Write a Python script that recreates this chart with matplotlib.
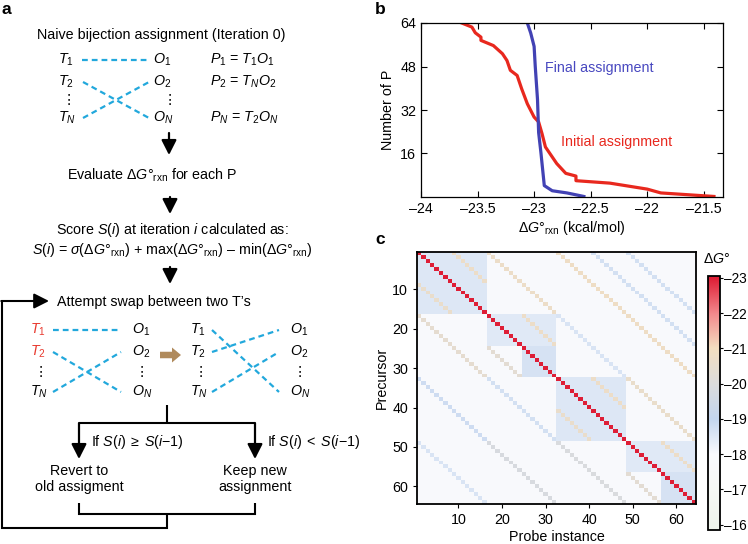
import matplotlib
matplotlib.use('Agg')
import matplotlib.pyplot as plt
import numpy as np
from matplotlib.colors import LinearSegmentedColormap, Normalize
from matplotlib.patches import FancyArrow

plt.rcParams['font.family'] = ['Liberation Sans', 'DejaVu Sans']
plt.rcParams['mathtext.fontset'] = 'custom'
plt.rcParams['mathtext.rm'] = 'Liberation Sans'
plt.rcParams['mathtext.it'] = 'Liberation Sans:italic'
plt.rcParams['mathtext.bf'] = 'Liberation Sans:bold'

# ---- panel b data (sorted dG of the 64 pairs) ----
red_dg = [-23.64, -23.55, -23.52, -23.47, -23.47, -23.36, -23.28, -23.24, -23.21, -23.15,
          -23.11, -23.06, -23.00, -22.96, -22.93, -22.90, -22.80, -22.72, -22.63, -22.63,
          -22.33, -22.00, -21.88, -21.41]
red_n = [64, 62.5, 60.4, 58.8, 57.6, 55.7, 52.7, 50.2, 46.6, 44.7,
         39.8, 34.3, 29.4, 27.6, 23.3, 18.4, 12.3, 8.7, 7.7, 6.0,
         5.1, 2.9, 1.5, 0.2]
blue_dg = [-23.06, -23.03, -23.00, -22.99, -22.97, -22.96, -22.94, -22.91, -22.84, -22.71, -22.56]
blue_n = [64, 60.3, 55.4, 48.1, 35.9, 23.7, 16.4, 4.2, 2.3, 1.5, 0.2]
b_xticks = [-24, -23.5, -23, -22.5, -22, -21.5]
b_yticks = [16, 32, 48, 64]

# ---- panel c data (64 x 64 matrix described by its structure) ----
n_cells = 64
background = -17.9
diag_value = -23.0
# (row_start, row_end, col_start, col_end, value), 1-based inclusive
block_rects = [
    (1, 16, 1, 16, -18.5),
    (17, 24, 17, 32, -18.45),
    (25, 32, 25, 32, -18.65),
    (33, 48, 33, 48, -18.5),
    (49, 56, 49, 64, -18.45),
    (57, 64, 57, 64, -18.65),
]
# (offset col-row, row_start, row_end, value)
stripes = [
    (8, 1, 8, -20.7), (-8, 9, 16, -20.6),
    (8, 17, 24, -20.7), (-8, 25, 32, -20.3),
    (8, 33, 40, -20.7), (-8, 41, 48, -20.6),
    (8, 49, 56, -20.7), (-8, 57, 64, -20.3),
    (16, 1, 16, -20.7), (16, 17, 32, -18.6), (16, 33, 48, -20.6),
    (32, 1, 32, -20.8), (40, 1, 24, -18.7), (48, 1, 16, -18.7),
    (-16, 17, 32, -20.4), (-16, 33, 48, -18.7), (-16, 49, 64, -19.9),
    (-32, 33, 48, -18.8), (-32, 49, 64, -19.8), (-48, 49, 64, -18.6),
]
c_ticks = [10, 20, 30, 40, 50, 60]
cbar_levels = [-23, -22, -21, -20, -19, -18, -17, -16]
cbar_colors = ['#DE1E36', '#F2898C', '#F3DEC0', '#DCDCDC', '#C3D5EE', '#F9FAFE', '#F6F8F5', '#EFF4EC']
c_vmin, c_vmax = -23.05, -15.85

M = np.full((n_cells, n_cells), background)
for r0, r1, c0, c1, v in block_rects:
    M[r0 - 1:r1, c0 - 1:c1] = v
for off, r0, r1, v in stripes:
    for r in range(r0, r1 + 1):
        c = r + off
        if 1 <= c <= n_cells:
            M[r - 1, c - 1] = v
np.fill_diagonal(M, diag_value)

CYAN = '#22A8DC'
TRED = '#E8392E'
FS = 10.3

fig = plt.figure(figsize=(7.48, 5.44), dpi=100)

# ---- panel a: flow diagram drawn in pixel coordinates ----
ax0 = fig.add_axes([0, 0, 1, 1])
ax0.set_xlim(0, 748)
ax0.set_ylim(544, 0)
ax0.axis('off')


def txt(x, y, s, ha='left', color='k', **kw):
    ax0.text(x, y, s, ha=ha, va='center', fontsize=FS, color=color, **kw)


def dash(x0, y0, x1, y1):
    ax0.plot([x0, x1], [y0, y1], color=CYAN, lw=1.6, ls=(0, (2.6, 1.8)))


def down_arrow(x, y0, y1):
    ax0.annotate('', xy=(x, y1), xytext=(x, y0),
                 arrowprops=dict(arrowstyle='-|>,head_width=0.38,head_length=0.75',
                                 lw=1.6, color='k', shrinkA=0, shrinkB=0,
                                 mutation_scale=12))


def line(xs, ys):
    ax0.plot(xs, ys, color='k', lw=1.5, solid_capstyle='butt', solid_joinstyle='miter')


ax0.text(1, 10, 'a', fontsize=12.5, fontweight='bold', va='center')
ax0.text(375, 10, 'b', fontsize=12.5, fontweight='bold', va='center')
ax0.text(375, 240, 'c', fontsize=12.5, fontweight='bold', va='center')

txt(161, 35, 'Naive bijection assignment (Iteration 0)', ha='center')
rows1 = [60, 82, 100, 118]
txt(58, rows1[0], '$T_1$')
txt(58, rows1[1], '$T_2$')
txt(62, rows1[2], '⋮')
txt(58, rows1[3], '$T_N$')
txt(153, rows1[0], '$O_1$')
txt(153, rows1[1], '$O_2$')
txt(163, rows1[2], '⋮')
txt(153, rows1[3], '$O_N$')
dash(82, rows1[0], 149, rows1[0])
dash(83, rows1[1], 149, rows1[3])
dash(83, rows1[3], 149, rows1[1])
txt(210, rows1[0], '$P_1$ = $T_1O_1$')
txt(210, rows1[1], '$P_2$ = $T_NO_2$')
txt(210, rows1[3], '$P_N$ = $T_2O_N$')

down_arrow(169, 133, 155)
txt(152, 175, r'Evaluate $\Delta G°_{\rm rxn}$ for each P', ha='center')
down_arrow(170, 197, 214)
txt(172, 230, 'Score $S(i)$ at iteration $i$ calculated as:', ha='center')
txt(172, 250, r'$S(i)$ = $\sigma$($\Delta G°_{\rm rxn}$) + max($\Delta G°_{\rm rxn}$) – min($\Delta G°_{\rm rxn}$)',
    ha='center')
down_arrow(170, 267, 284)
txt(57, 302, 'Attempt swap between two T’s')

rows2 = [330, 352, 372, 392]
txt(30, rows2[0], '$T_1$', color=TRED)
txt(30, rows2[1], '$T_2$', color=TRED)
txt(34, rows2[2], '⋮')
txt(30, rows2[3], '$T_N$')
for yy, lab in zip([rows2[0], rows2[1], rows2[3]], ['$O_1$', '$O_2$', '$O_N$']):
    txt(132, yy, lab)
    txt(290, yy, lab)
txt(135, rows2[2], '⋮')
dash(53, rows2[0], 121, rows2[0])
dash(53, rows2[1], 121, rows2[3])
dash(53, rows2[3], 121, rows2[1])

ax0.add_patch(FancyArrow(160, 355, 12, 0, width=6.5, head_width=15, head_length=9,
                         length_includes_head=False, color='#B08A5C', lw=0))

txt(190, rows2[0], '$T_1$')
txt(190, rows2[1], '$T_2$')
txt(194, rows2[2], '⋮')
txt(190, rows2[3], '$T_N$')
txt(293, rows2[2], '⋮')
dash(212, rows2[0], 279, rows2[3])
dash(212, rows2[1], 279, rows2[0])
dash(212, rows2[3], 279, rows2[1])

line([167, 167], [405, 423])
line([79, 255], [423, 423])
down_arrow(79, 423, 459)
down_arrow(255, 423, 459)
txt(91, 442, r'If $S(i)\;\geq\;S(i{-}1)$')
txt(267, 442, r'If $S(i)\;<\;S(i{-}1)$')
ax0.text(79, 479, 'Revert to\nold assigment', ha='center', va='center', fontsize=FS, linespacing=1.25)
ax0.text(255, 479, 'Keep new\nassignment', ha='center', va='center', fontsize=FS, linespacing=1.25)
line([79, 79, 255, 255], [503, 514, 514, 503])
line([167, 167, 2, 2], [514, 528, 528, 301])
ax0.annotate('', xy=(49, 301), xytext=(1.3, 301),
             arrowprops=dict(arrowstyle='-|>,head_width=0.38,head_length=0.75',
                             lw=1.5, color='k', shrinkA=0, shrinkB=0, mutation_scale=12))

# ---- panel b ----
axb = fig.add_axes([421 / 748, 1 - 197 / 544, 302 / 748, 174 / 544])
axb.plot(red_dg, red_n, color='#E8281E', lw=2.3)
axb.plot(blue_dg, blue_n, color='#4242B4', lw=2.3)
axb.set_xlim(-24, -21.33)
axb.set_ylim(0, 64)
axb.set_xticks(b_xticks)
axb.set_xticklabels([f'{v:g}'.replace('-', '–') for v in b_xticks])
axb.set_yticks(b_yticks)
axb.tick_params(direction='in', top=True, right=True, labelsize=FS, length=4, width=0.8)
axb.set_ylabel('Number of P', fontsize=FS, labelpad=4)
axb.set_xlabel(r'$\Delta G°_{\rm rxn}$ (kcal/mol)', fontsize=FS, labelpad=2)
axb.text(-22.90, 47.3, 'Final assignment', color='#4848C0', fontsize=FS, va='center')
axb.text(-22.76, 20.1, 'Initial assignment', color='#E8281E', fontsize=FS, va='center')
for s in axb.spines.values():
    s.set_linewidth(0.9)

# ---- panel c ----
cmap_nodes = [(0.0, cbar_colors[0])]
cmap_nodes += [((lv - c_vmin) / (c_vmax - c_vmin), c) for lv, c in zip(cbar_levels, cbar_colors)]
cmap_nodes += [(1.0, cbar_colors[-1])]
cmap = LinearSegmentedColormap.from_list('dg', cmap_nodes)
norm = Normalize(vmin=c_vmin, vmax=c_vmax)

axc = fig.add_axes([417 / 748, 1 - 504 / 544, 279 / 748, 252 / 544])
im = axc.imshow(M, cmap=cmap, norm=norm, aspect='auto', interpolation='nearest',
                extent=(0.5, n_cells + 0.5, n_cells + 0.5, 0.5))
axc.set_xticks(c_ticks)
axc.set_yticks(c_ticks)
axc.tick_params(labelsize=FS, length=3, width=0.8)
axc.set_xlabel('Probe instance', fontsize=FS, labelpad=2)
axc.set_ylabel('Precursor', fontsize=FS, labelpad=2)
for s in axc.spines.values():
    s.set_linewidth(1.3)

cax = fig.add_axes([708 / 748, 1 - 530 / 544, 12 / 748, 254 / 544])
cb = fig.colorbar(im, cax=cax)
cb.set_ticks(cbar_levels)
cb.set_ticklabels([f'{v}'.replace('-', '–') for v in cbar_levels])
cb.ax.invert_yaxis()
cb.ax.tick_params(labelsize=9.8, length=2, width=0.8, pad=1)
cb.outline.set_linewidth(1.3)
ax0.text(717, 259, r'$\Delta G°$', ha='center', va='center', fontsize=FS)

fig.savefig('out.png', dpi=100)
